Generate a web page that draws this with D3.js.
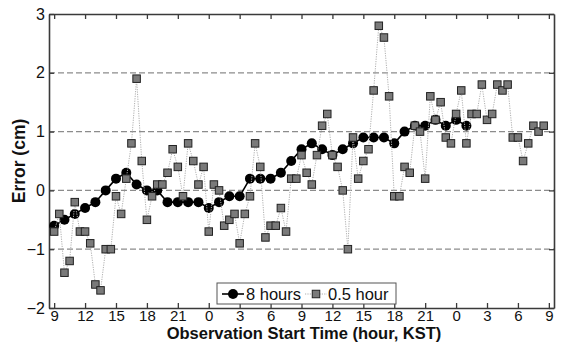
<!DOCTYPE html>
<html>
<head>
<meta charset="utf-8">
<script src="https://cdn.jsdelivr.net/npm/d3@7/dist/d3.min.js"></script>
<style>
  html, body { margin: 0; padding: 0; background: #fff; }
  svg { display: block; font-family: "Liberation Sans", Arial, sans-serif; }
</style>
</head>
<body>
<svg id="chart" width="572" height="343"></svg>
<script>
// ---- Data ----
// x positions are hours since the first observation start (09 KST)
const xTickValues = [0, 3, 6, 9, 12, 15, 18, 21, 24, 27, 30, 33, 36, 39, 42, 45, 48];
const xTickLabels = ["9", "12", "15", "18", "21", "0", "3", "6", "9", "12", "15", "18", "21", "0", "3", "6", "9"];
const yTickValues = [-2, -1, 0, 1, 2, 3];
const gridValues = [-1, 0, 1, 2];

// 8-hour solution, hourly start times (h = 0 .. 40)
const hours8 = d3.range(0, 41, 1);
const err8 = [-0.6, -0.5, -0.4, -0.3, -0.2, 0.0, 0.2, 0.3, 0.1, 0.0,
              0.0, -0.2, -0.2, -0.2, -0.2, -0.3, -0.2, -0.1, -0.1, 0.2,
              0.2, 0.2, 0.3, 0.5, 0.7, 0.8, 0.7, 0.6, 0.7, 0.8,
              0.9, 0.9, 0.9, 0.8, 1.0, 1.1, 1.1, 1.2, 1.1, 1.2,
              1.1];

// 0.5-hour solution, half-hourly start times (h = 0 .. 47.5)
const hours05 = d3.range(0, 48, 0.5);
const err05 = [-0.7, -0.4, -1.4, -1.2, -0.2, -0.7, -0.7, -0.9, -1.6, -1.7,
               -1.0, -1.0, -0.1, -0.4, 0.2, 0.8, 1.9, 0.5, -0.5, -0.1,
               0.1, 0.1, 0.3, 0.7, 0.4, -0.1, 0.8, 0.5, 0.1, 0.4,
               -0.7, 0.1, 0.0, -0.6, -0.5, -0.4, -0.9, -0.4, -0.1, 0.8,
               0.4, -0.8, -0.6, -0.6, -0.3, -0.7, 0.2, 0.2, 0.6, 0.3,
               0.1, 0.6, 1.1, 1.3, 0.6, 0.4, 0.0, -1.0, 0.9, 0.2,
               0.5, 0.7, 1.7, 2.8, 2.6, 1.6, -0.1, -0.1, 0.4, 0.3,
               1.1, 1.0, 0.2, 1.6, 1.2, 1.5, 0.9, 0.8, 1.3, 1.7,
               0.8, 1.3, 1.3, 1.8, 1.2, 1.3, 1.8, 1.7, 1.8, 0.9,
               0.9, 0.5, 0.8, 1.1, 1.0, 1.1];

const seriesNames = ["8 hours", "0.5 hour"];
const yLabel = "Error (cm)";
const xLabel = "Observation Start Time (hour, KST)";

// ---- Layout ----
const L = 49, R = 554, T = 14, B = 308;
const svg = d3.select("#chart");

const x = d3.scaleLinear().domain([-0.5, 48.5]).range([L, R]);
const y = d3.scaleLinear().domain([-2, 3]).range([B, T]);

// grid lines
svg.append("g").selectAll("line").data(gridValues).join("line")
  .attr("x1", L).attr("x2", R)
  .attr("y1", d => y(d)).attr("y2", d => y(d))
  .attr("stroke", "#8c8c8c").attr("stroke-width", 1.2)
  .attr("stroke-dasharray", "6,3");

// axes
const fmtX = (d, i) => xTickLabels[i];
const axBottom = svg.append("g").attr("transform", `translate(0,${B})`)
  .call(d3.axisBottom(x).tickValues(xTickValues).tickFormat(fmtX).tickSizeInner(-5).tickSizeOuter(0).tickPadding(2));
const axTop = svg.append("g").attr("transform", `translate(0,${T})`)
  .call(d3.axisTop(x).tickValues(xTickValues).tickFormat("").tickSizeInner(-5).tickSizeOuter(0));
const axLeft = svg.append("g").attr("transform", `translate(${L},0)`)
  .call(d3.axisLeft(y).tickValues(yTickValues).tickFormat(d3.format("d")).tickSizeInner(-5).tickSizeOuter(0).tickPadding(4));
const axRight = svg.append("g").attr("transform", `translate(${R},0)`)
  .call(d3.axisRight(y).tickValues(yTickValues).tickFormat("").tickSizeInner(-5).tickSizeOuter(0));

[axBottom, axTop, axLeft, axRight].forEach(g => {
  g.select(".domain").attr("stroke", "#3a3a3a").attr("stroke-width", 1.6);
  g.selectAll(".tick line").attr("stroke", "#3a3a3a").attr("stroke-width", 1.3);
  g.selectAll(".tick text").attr("fill", "#111").style("font-size", "16px")
   .style("font-family", "'Liberation Sans', Arial, sans-serif");
});
axBottom.selectAll(".tick text").style("font-size", "15px");

// 8-hour series
const line = d3.line().x(d => x(d[0])).y(d => y(d[1]));
const data8 = hours8.map((h, i) => [h, err8[i]]);
const data05 = hours05.map((h, i) => [h, err05[i]]);

svg.append("path").datum(data8).attr("d", line)
  .attr("fill", "none").attr("stroke", "#000").attr("stroke-width", 1.6);
svg.append("g").selectAll("circle").data(data8).join("circle")
  .attr("cx", d => x(d[0])).attr("cy", d => y(d[1])).attr("r", 5)
  .attr("fill", "#000");

// 0.5-hour series
svg.append("path").datum(data05).attr("d", line)
  .attr("fill", "none").attr("stroke", "#b0b0b0").attr("stroke-width", 1)
  .attr("stroke-dasharray", "1.2,1.2");
const sq = 7.5;
svg.append("g").selectAll("rect").data(data05).join("rect")
  .attr("x", d => x(d[0]) - sq / 2).attr("y", d => y(d[1]) - sq / 2)
  .attr("width", sq).attr("height", sq)
  .attr("fill", "#7a7a7a").attr("stroke", "#222").attr("stroke-width", 1);

// legend
const lg = svg.append("g");
lg.append("rect").attr("x", 217).attr("y", 283).attr("width", 179).attr("height", 21)
  .attr("fill", "#fff").attr("stroke", "#555").attr("stroke-width", 1);
lg.append("line").attr("x1", 222).attr("x2", 244).attr("y1", 294).attr("y2", 294)
  .attr("stroke", "#000").attr("stroke-width", 1.6);
lg.append("circle").attr("cx", 233).attr("cy", 294).attr("r", 5).attr("fill", "#000");
lg.append("text").attr("x", 246).attr("y", 300).text(seriesNames[0])
  .style("font-size", "16.5px").attr("fill", "#111");
lg.append("line").attr("x1", 305).attr("x2", 327).attr("y1", 294).attr("y2", 294)
  .attr("stroke", "#b0b0b0").attr("stroke-width", 1).attr("stroke-dasharray", "1.2,1.2");
lg.append("rect").attr("x", 316 - sq / 2).attr("y", 294 - sq / 2).attr("width", sq).attr("height", sq)
  .attr("fill", "#7a7a7a").attr("stroke", "#222").attr("stroke-width", 1);
lg.append("text").attr("x", 328).attr("y", 300).text(seriesNames[1])
  .style("font-size", "16.5px").attr("fill", "#111");

// axis titles
svg.append("text").attr("x", 304).attr("y", 339).attr("text-anchor", "middle")
  .style("font-size", "16.5px").style("font-weight", "bold").attr("fill", "#111")
  .text(xLabel);
svg.append("text").attr("transform", "translate(25,161) rotate(-90)").attr("text-anchor", "middle")
  .style("font-size", "17.5px").style("font-weight", "bold").attr("fill", "#111")
  .text(yLabel);
</script>
</body>
</html>
